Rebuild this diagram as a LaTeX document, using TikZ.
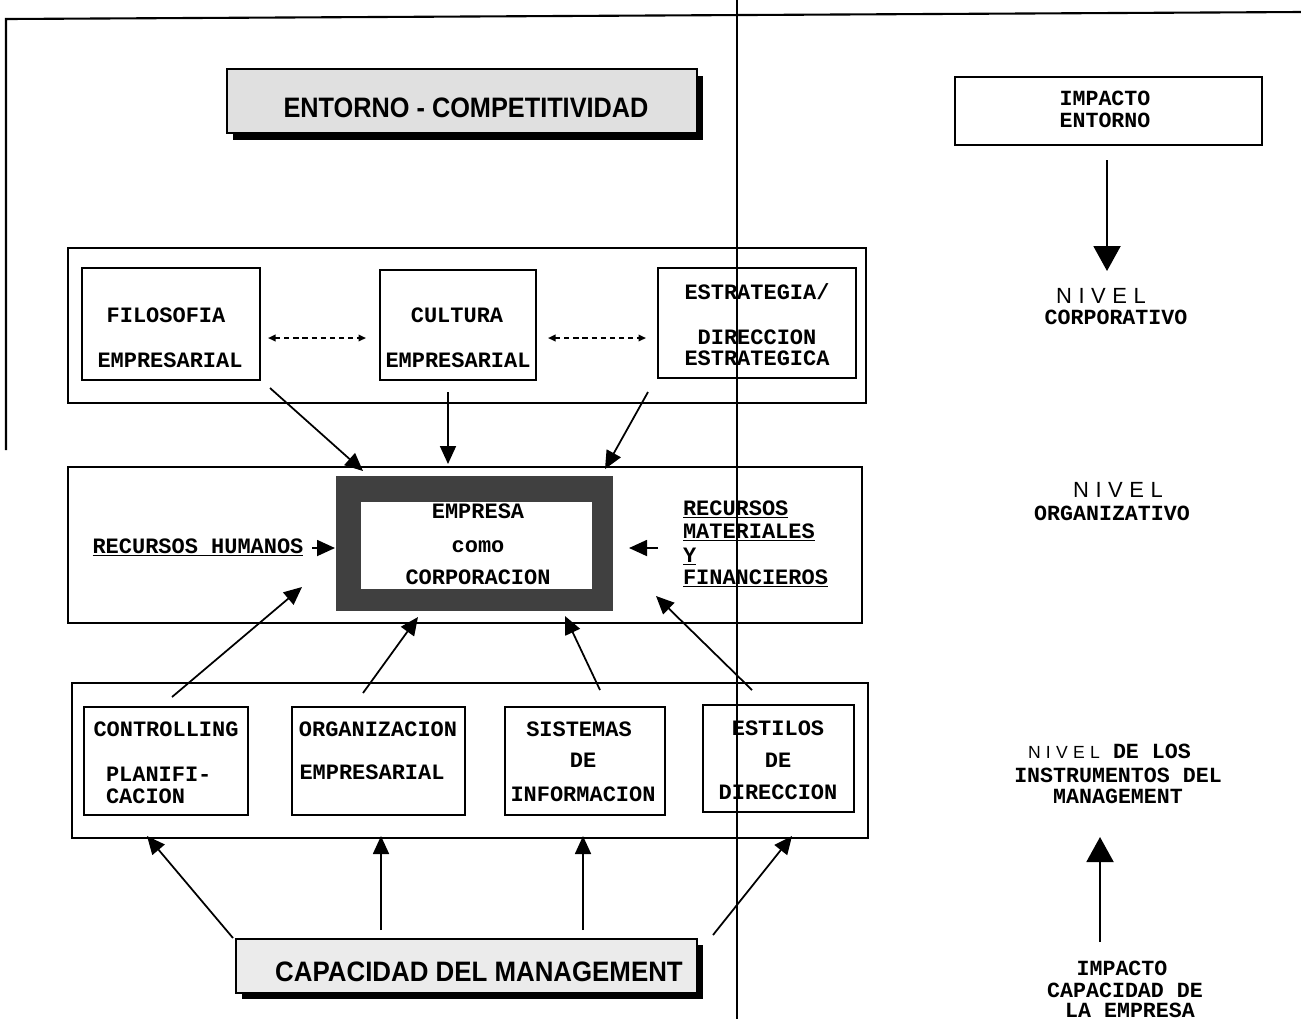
\documentclass[tikz,border=0pt]{standalone}
\usepackage{fontspec}
\usepackage{graphicx}
\newfontfamily\twfont{Liberation Mono}
\newfontfamily\hvfont{Liberation Sans}
\newfontfamily\handfont[LetterSpace=30]{Liberation Sans}
\usetikzlibrary{arrows.meta,fit}

\begin{document}
\begin{tikzpicture}[x=0.02cm,y=-0.02cm,
  every node/.style={inner sep=0pt, outer sep=0pt},
  frame/.style={draw, line width=1pt, inner sep=0pt},
  tw/.style={font=\twfont\bfseries\fontsize{12.5}{15}\selectfont, anchor=base},
  twr/.style={font=\twfont\bfseries\fontsize{12.3}{14}\selectfont, anchor=base},
  hand/.style={font=\handfont\fontsize{12.5}{14}\selectfont, anchor=base},
  title/.style={font=\hvfont\bfseries\fontsize{16}{18}\selectfont, anchor=base},
  arr/.style={line width=1pt, -{Triangle[length=0.36cm,width=0.32cm]}},
  bigarr/.style={line width=1.2pt, -{Triangle[length=0.5cm,width=0.54cm]}},
  dasharr/.style={line width=1pt, dash pattern=on 3pt off 2.2pt,
    {Triangle[length=0.15cm,width=0.13cm]}-{Triangle[length=0.15cm,width=0.13cm]}}
]
\fill[white] (0,0) rectangle (1301,1019);
\useasboundingbox (0,0) rectangle (1301,1019);

% page rules
\coordinate (tl) at (6,19);
\coordinate (tr) at (1301,12);
\coordinate (lb) at (6,450);
\coordinate (vt) at (737,0);
\coordinate (vb) at (737,1019);
\draw[line width=1.2pt] (lb) -- (tl) -- (tr);

% ---- environment banner ----
\fill[black] (233,76) rectangle (703,140);
\node[frame, fill=black!12, fit={(227,69) (697,133)}] (entorno) {};
\node[title] (entornoT) at (466,117) {\scalebox{0.9}[1]{ENTORNO - COMPETITIVIDAD}};

% ---- corporate level ----
\node[frame, fit={(68,248) (866,403)}] (corp) {};
\node[frame, fit={(82,268) (260,380)}] (filo) {};
\node[frame, fit={(380,270) (536,380)}] (cult) {};
\node[frame, fit={(658,268) (856,378)}] (estr) {};
\node[tw] (filoA) at (166,322) {FILOSOFIA};
\node[tw] (filoB) at (170,367) {EMPRESARIAL};
\node[tw] (cultA) at (457,322) {CULTURA};
\node[tw] (cultB) at (458,367) {EMPRESARIAL};
\node[tw] (estrA) at (757,299) {ESTRATEGIA/};
\node[tw] (estrB) at (757,344) {DIRECCION};
\node[tw] (estrC) at (757,365) {ESTRATEGICA};
\coordinate (d1a) at (268,338);
\coordinate (d1b) at (366,338);
\coordinate (d2a) at (548,338);
\coordinate (d2b) at (646,338);
\draw[dasharr] (d1a) -- (d1b);
\draw[dasharr] (d2a) -- (d2b);

% ---- organisational level ----
\node[frame, fit={(68,467) (862,623)}] (org) {};
\node[fill=black!75, fit={(336,476) (613,611)}] (emp) {};
\node[fill=white, fit={(361,502) (592,589)}] (empIn) {};
\node[tw] (empA) at (478,518) {EMPRESA};
\node[tw] (empB) at (478,552) {como};
\node[tw] (empC) at (478,584) {CORPORACION};
\node[tw] (rh) at (198,553) {\underline{RECURSOS HUMANOS}};
\node[tw, anchor=base west] (rm1) at (683,515) {\underline{RECURSOS}};
\node[tw, anchor=base west] (rm2) at (683,538) {\underline{MATERIALES}};
\node[tw, anchor=base west] (rm3) at (683,562) {\underline{Y}};
\node[tw, anchor=base west] (rm4) at (683,584) {\underline{FINANCIEROS}};

\coordinate (a1s) at (270,388);  \coordinate (a1e) at (363,471);
\coordinate (a2s) at (448,392);  \coordinate (a2e) at (448,464);
\coordinate (a3s) at (648,392);  \coordinate (a3e) at (605,469);
\coordinate (rhs) at (312,548);  \coordinate (rhe) at (335,548);
\coordinate (rms) at (658,548);  \coordinate (rme) at (629,548);
\draw[arr] (a1s) -- (a1e);
\draw[arr] (a2s) -- (a2e);
\draw[arr] (a3s) -- (a3e);
\draw[arr] (rhs) -- (rhe);
\draw[arr] (rms) -- (rme);

% ---- management instruments ----
\node[frame, fit={(72,683) (868,838)}] (inst) {};
\node[frame, fit={(84,707) (248,815)}] (ctrl) {};
\node[frame, fit={(292,707) (465,815)}] (orga) {};
\node[frame, fit={(505,707) (665,815)}] (sist) {};
\node[frame, fit={(703,705) (854,812)}] (esti) {};
\node[tw] (ctrlA) at (166,736) {CONTROLLING};
\node[tw, anchor=base west] (ctrlB) at (106,781) {PLANIFI-};
\node[tw, anchor=base west] (ctrlC) at (106,803) {CACION};
\node[tw] (orgaA) at (378,736) {ORGANIZACION};
\node[tw] (orgaB) at (372,779) {EMPRESARIAL};
\node[tw] (sistA) at (579,736) {SISTEMAS};
\node[tw] (sistB) at (583,767) {DE};
\node[tw] (sistC) at (583,801) {INFORMACION};
\node[tw] (estiA) at (778,735) {ESTILOS};
\node[tw] (estiB) at (778,767) {DE};
\node[tw] (estiC) at (778,799) {DIRECCION};

\coordinate (b1s) at (172,697);  \coordinate (b1e) at (302,587);
\coordinate (b2s) at (363,693);  \coordinate (b2e) at (418,617);
\coordinate (b3s) at (600,690);  \coordinate (b3e) at (565,616);
\coordinate (b4s) at (752,690);  \coordinate (b4e) at (656,596);
\draw[arr] (b1s) -- (b1e);
\draw[arr] (b2s) -- (b2e);
\draw[arr] (b3s) -- (b3e);
\draw[arr] (b4s) -- (b4e);

% ---- management capacity banner ----
\fill[black] (242,945) rectangle (703,999);
\node[frame, fill=black!8, fit={(236,939) (697,993)}] (cap) {};
\node[title] (capT) at (479,981) {\scalebox{0.92}[1]{CAPACIDAD DEL MANAGEMENT}};

\coordinate (c1s) at (233,938);  \coordinate (c1e) at (147,836);
\coordinate (c2s) at (381,930);  \coordinate (c2e) at (381,836);
\coordinate (c3s) at (583,930);  \coordinate (c3e) at (583,836);
\coordinate (c4s) at (713,935);  \coordinate (c4e) at (792,836);
\draw[arr] (c1s) -- (c1e);
\draw[arr] (c2s) -- (c2e);
\draw[arr] (c3s) -- (c3e);
\draw[arr] (c4s) -- (c4e);

% ---- column rule ----
\draw[line width=1pt] (vt) -- (vb);

% ---- levels column ----
\node[frame, fit={(955,77) (1262,145)}] (imp) {};
\node[twr] (impA) at (1105,105) {IMPACTO};
\node[twr] (impB) at (1105,127) {ENTORNO};
\coordinate (ie) at (1107,271);
\draw[bigarr] (imp.south -| ie) ++(0,15) -- (ie);

\node[hand] (nv1) at (1101,303) {NIVEL};
\node[twr] (nv1b) at (1116,324) {CORPORATIVO};
\node[hand] (nv2) at (1118,497) {NIVEL};
\node[twr] (nv2b) at (1112,520) {ORGANIZATIVO};
\node[hand, font=\handfont\fontsize{10}{12}\selectfont, anchor=base west] (nv3) at (1028,758) {NIVEL};
\node[twr, anchor=base west] (nv3b) at (1113,758) {DE LOS};
\node[twr] (nv3c) at (1118,782) {INSTRUMENTOS DEL};
\node[twr] (nv3d) at (1118,803) {MANAGEMENT};

\coordinate (ks) at (1100,942);
\coordinate (ke) at (1100,837);
\draw[bigarr] (ks) -- (ke);
\node[twr] (cpA) at (1122,975) {IMPACTO};
\node[twr] (cpB) at (1125,997) {CAPACIDAD DE};
\node[twr] (cpC) at (1130,1017) {LA EMPRESA};
\end{tikzpicture}
\end{document}
